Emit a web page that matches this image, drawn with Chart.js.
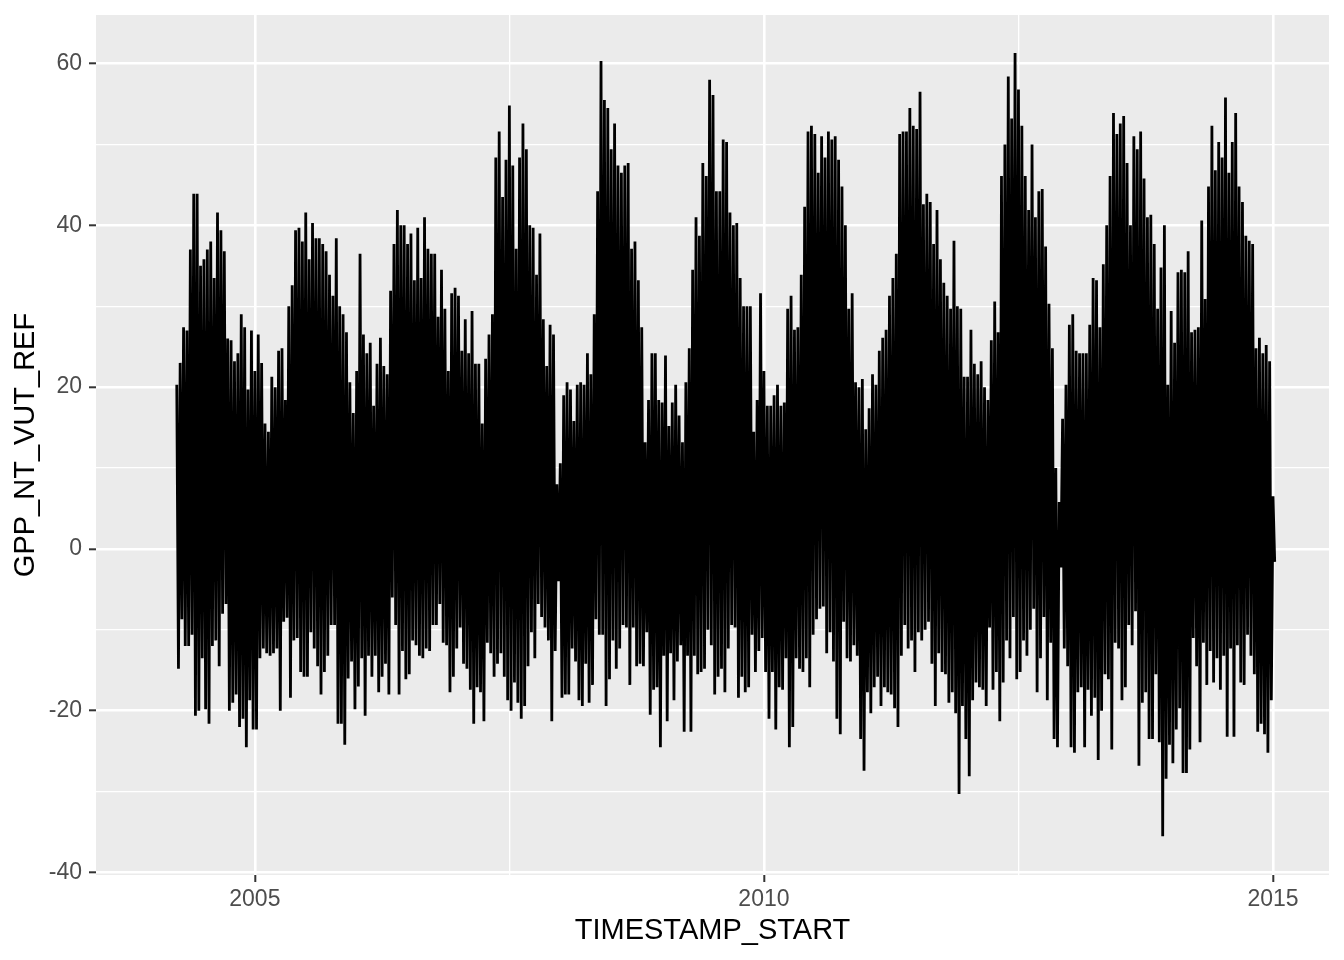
<!DOCTYPE html>
<html>
<head>
<meta charset="utf-8">
<title>GPP_NT_VUT_REF</title>
<script src="https://cdn.jsdelivr.net/npm/chart.js@4.4.1/dist/chart.umd.min.js"></script>
<style>
  html, body { margin: 0; padding: 0; background: #ffffff; }
  #wrap { width: 1344px; height: 960px; position: relative; }
</style>
</head>
<body>
<div id="wrap"><canvas id="chart"></canvas></div>
<script>
// Sampled envelope of the half-hourly series: 30 samples per year,
// each sample gives the highest (hi) and lowest (lo) value seen there.
const samplesPerYear = 30;
const years = [2004, 2005, 2006, 2007, 2008, 2009, 2010, 2011, 2012, 2013, 2014];
const firstSample = [7, 0, 0, 0, 0, 0, 0, 0, 0, 0, 0]; // record starts late March 2004

const hi2004 = [20.3, 23, 27.4, 27, 37, 43.9, 43.9, 35, 35.8, 37, 38, 33.5, 41.6, 39.4, 36.8, 26, 25.8, 23.2, 24.2, 29, 27.4, 19.7, 27];
const lo2004 = [-14.8, -8.7, -12, -12, -10.6, -20.6, -20, -13.5, -19.8, -21.6, -12, -11.3, -14.5, -8, -6.8, -20, -19, -18, -22, -21, -24.5, -18.7, -22.3];

const hi2005 = [22, 26.5, 23, 15.5, 14.5, 21.3, 20, 24.5, 24.8, 18.4, 30, 32.6, 39.4, 39.7, 38, 41.6, 35.8, 40.3, 38.4, 38.4, 37.7, 36.8, 33.9, 31.3, 38.4, 30, 29, 26.8, 20.6, 16.8];
const lo2005 = [-22.3, -13.5, -12.3, -12.9, -13.2, -12.9, -12.3, -20, -9, -8.5, -18.4, -11.3, -11, -15.2, -15.8, -15.8, -10.3, -12.3, -14.5, -18, -15.2, -13.2, -9.4, -9.4, -21.6, -21.6, -24.2, -16, -13.9, -19.8];

const hi2006 = [22, 36.5, 26.5, 24.2, 25.5, 17.7, 22.9, 26.1, 22.6, 21.6, 31.9, 37.7, 41.9, 40, 40, 37.7, 39, 33.2, 39.7, 33.5, 41, 37.1, 36.5, 36.5, 28.7, 34.5, 29.7, 22, 31.6, 32.3];
const lo2006 = [-17, -13.5, -20.6, -13.2, -15.8, -13.2, -17.7, -15.8, -14.2, -18, -6, -9.4, -18, -12.6, -16.1, -15.5, -11.3, -11.9, -13.2, -13.5, -12.3, -12.6, -9.4, -9.4, -6.8, -11.6, -11.9, -17.7, -15.8, -12.3];

const hi2007 = [31.3, 24.5, 28.4, 24.2, 29.4, 22.9, 22.9, 15.5, 23.5, 26.5, 29, 48.4, 51.6, 43.5, 48.1, 54.8, 47.4, 37.1, 48.4, 52.6, 49.4, 40, 39.7, 33.9, 39, 28.4, 22.6, 27.7, 26.5, 8];
const lo2007 = [-9.7, -14.2, -14.8, -17.4, -21.6, -17.1, -17.7, -21.3, -11.6, -12.9, -15.8, -14.2, -12.9, -15.8, -18.7, -20, -16.5, -19, -21, -19.4, -14.5, -10.3, -13.5, -6.8, -8.4, -9.7, -11.3, -21.3, -12.6, -4];

const hi2008 = [10.6, 19, 20.6, 19.7, 15.8, 20.3, 20.6, 20.3, 24.2, 21.6, 29, 44.2, 60.3, 55.5, 54.5, 49.4, 52.6, 47.4, 46.5, 47.4, 47.7, 37.1, 38, 33.2, 27.4, 13.2, 18.4, 24.2, 24.2, 18.4];
const lo2008 = [-18.4, -18, -18, -12.3, -13.9, -18.7, -19.4, -14.2, -19, -16.8, -8.7, -10.6, -10.6, -19.4, -16.1, -11.3, -14.8, -12.3, -9.4, -9.7, -16.8, -9.7, -14.5, -14.2, -14.5, -10.3, -20.5, -17.4, -17.1, -24.5];

const hi2009 = [18.1, 23.9, 15.2, 18.1, 20.3, 16.5, 13.2, 20.6, 24.8, 34.5, 41, 38.7, 47.7, 46.1, 58, 56.1, 44.2, 44.2, 50.6, 50.3, 41.6, 40, 40.3, 33.5, 30, 30, 30, 14.5, 18.4, 31.6];
const lo2009 = [-13.2, -21.3, -12.9, -18.7, -13.9, -11.9, -22.6, -13.2, -22.6, -13.2, -15.5, -15.2, -14.8, -10, -11.9, -18, -15.8, -14.8, -17.7, -12.3, -9.4, -9.7, -18.4, -15.8, -17.7, -17.1, -10.6, -15.2, -12.6, -11];

const hi2010 = [22, 17.7, 17.7, 19, 20.3, 17.7, 18.1, 29.7, 31.3, 27.1, 27.4, 33.9, 42.3, 51.6, 52.3, 51.3, 46.5, 51, 48.4, 51.6, 50.6, 51, 48.1, 44.8, 40, 29.7, 31.6, 20.6, 20, 21];
const lo2010 = [-15.2, -21, -15.2, -22.3, -17.1, -17.4, -13.5, -24.5, -22, -13.5, -14.8, -15.2, -13.5, -17.1, -10.6, -8.7, -7.4, -7.1, -12.9, -10.3, -13.9, -21, -22.9, -9, -13.5, -13.9, -11.9, -13.2, -23.5, -27.4];

const hi2011 = [14.8, 17.4, 21.6, 20.3, 24.5, 26.1, 27.1, 31.3, 33.5, 36.5, 51.3, 51.6, 51.6, 54.5, 52.3, 51.9, 56.5, 42.6, 43.9, 42.9, 37.7, 41.9, 35.8, 32.9, 31.3, 29.7, 38.1, 30, 29.7, 21.3];
const lo2011 = [-17.7, -20.3, -17.1, -15.8, -19.4, -17.1, -17.7, -18, -19.7, -22, -13.2, -9.4, -12.3, -11.3, -15.2, -10.3, -11.3, -10, -9, -14.2, -19.4, -12.9, -15.2, -15.5, -19, -17.7, -20.3, -30.3, -19.4, -23.5];

const hi2012 = [21.3, 27.1, 22.9, 21.6, 23.2, 20, 18.4, 25.8, 30.6, 26.8, 46.1, 50, 58.4, 53.2, 61.3, 56.8, 52.3, 46.1, 41.9, 50, 41, 44.2, 44.5, 37.4, 30.3, 24.8, 10, 5.8, 16.1, 20.3];
const lo2012 = [-28.1, -18.7, -16.5, -17.1, -17.4, -19.4, -9.7, -17.4, -15.2, -21.3, -16.5, -11.3, -13.5, -8.4, -16.1, -15.2, -11.3, -13.2, -10, -7.4, -17.7, -13.5, -8.4, -18.7, -11.6, -23.5, -24.5, -2.3, -12.3, -14.5];

const hi2013 = [27.7, 29, 24.5, 24.2, 24.2, 24.2, 27.7, 33.5, 33.2, 27.4, 35.2, 40, 46.1, 53.9, 51.3, 52.6, 53.5, 47.7, 40, 51, 49.4, 51.6, 45.8, 41, 41.3, 37.7, 29.7, 34.8, 40, 20.3];
const lo2013 = [-24.5, -25.2, -17.7, -17.1, -24.5, -17.4, -20.6, -18.4, -26.1, -20, -15.5, -16.1, -24.8, -11.6, -12.3, -18.7, -17.1, -9.4, -11.9, -7.7, -26.8, -19, -17.7, -23.5, -23.5, -15.5, -23.9, -35.5, -28.4, -24.2];

// last entry is the final record at the very start of 2015
const hi2014 = [29.4, 25.5, 34.2, 34.5, 34.2, 36.8, 26.8, 27.1, 27.4, 40.6, 30.9, 44.8, 52.3, 46.8, 50.3, 48.4, 55.8, 46.5, 50.3, 53.9, 44.8, 42.9, 38.7, 38.1, 37.7, 24.8, 26.1, 24.2, 25.2, 23.2, 6.5];
const lo2014 = [-26.5, -22.3, -19.7, -27.7, -27.7, -24.8, -11, -14.5, -23.9, -11.6, -16.8, -12.6, -16.5, -13.5, -17.4, -13.2, -23.2, -12.3, -23.2, -11.9, -16.5, -16.8, -10.6, -13.2, -15.5, -22.6, -21.6, -22.9, -25.2, -18.7, -1.6];

const hiByYear = [hi2004, hi2005, hi2006, hi2007, hi2008, hi2009, hi2010, hi2011, hi2012, hi2013, hi2014];
const loByYear = [lo2004, lo2005, lo2006, lo2007, lo2008, lo2009, lo2010, lo2011, lo2012, lo2013, lo2014];

// Axis breaks (ggplot style: labelled major + unlabelled minor)
const xMajor = [2005, 2010, 2015];
const xMinor = [2007.5, 2012.5];
const yMajor = [-40, -20, 0, 20, 40, 60];
const yMinor = [-30, -10, 10, 30, 50];

// Build the line: hi then lo for every sample, in time order
const points = [];
years.forEach((yr, i) => {
  const hi = hiByYear[i];
  const lo = loByYear[i];
  for (let k = 0; k < hi.length; k++) {
    const t = yr + (k + firstSample[i]) / samplesPerYear;
    points.push({ x: t, y: hi[k] });
    points.push({ x: t + 0.5 / samplesPerYear, y: lo[k] });
  }
});

const panelBg = {
  id: "panelBg",
  beforeDraw(chart) {
    const { ctx, chartArea: a } = chart;
    ctx.save();
    ctx.fillStyle = "#EBEBEB";
    ctx.fillRect(a.left, a.top, a.right - a.left, a.bottom - a.top);
    ctx.restore();
  }
};

const tickFont = { family: "'Liberation Sans', Arial, sans-serif", size: 23 };
const titleFont = { family: "'Liberation Sans', Arial, sans-serif", size: 29 };

function isMajor(list, v) {
  return list.some(m => Math.abs(m - v) < 1e-6);
}

// drop the extra room Chart.js keeps for half tick labels at the ends
function noEdgePadding(s) {
  s.paddingTop = 0;
  s.paddingBottom = 0;
  s.paddingLeft = 0;
  s.paddingRight = 0;
}

new Chart(document.getElementById("chart"), {
  type: "line",
  data: {
    datasets: [{
      label: "GPP_NT_VUT_REF",
      data: points,
      borderColor: "#000000",
      borderWidth: 2.8,
      borderJoinStyle: "bevel",
      pointRadius: 0,
      tension: 0,
      fill: false
    }]
  },
  options: {
    responsive: true,
    maintainAspectRatio: false,
    animation: false,
    events: [],
    layout: { padding: { top: 15, right: 15, left: 0, bottom: 0 } },
    plugins: {
      legend: { display: false },
      tooltip: { enabled: false }
    },
    scales: {
      x: {
        type: "linear",
        min: 2003.44,
        max: 2015.55,
        afterBuildTicks: s => { s.ticks = xMajor.concat(xMinor).sort((a, b) => a - b).map(v => ({ value: v })); },
        afterFit: s => { s.height = 85; noEdgePadding(s); },
        border: { display: false },
        grid: {
          color: "#FFFFFF",
          lineWidth: c => isMajor(xMajor, c.tick.value) ? 2.6 : 1.3,
          tickColor: c => isMajor(xMajor, c.tick.value) ? "#333333" : "rgba(0,0,0,0)",
          tickLength: 7,
          tickWidth: 2
        },
        ticks: {
          autoSkip: false,
          maxRotation: 0,
          padding: 4,
          color: "#4D4D4D",
          font: tickFont,
          callback: v => isMajor(xMajor, v) ? String(v) : ""
        },
        title: {
          display: true,
          text: "TIMESTAMP_START",
          color: "#000000",
          font: titleFont,
          padding: { top: 0, bottom: 12 }
        }
      },
      y: {
        type: "linear",
        min: -40.3,
        max: 66.0,
        afterBuildTicks: s => { s.ticks = yMajor.concat(yMinor).sort((a, b) => a - b).map(v => ({ value: v })); },
        afterFit: s => { s.width = 96; noEdgePadding(s); },
        border: { display: false },
        grid: {
          color: "#FFFFFF",
          lineWidth: c => isMajor(yMajor, c.tick.value) ? 2.6 : 1.3,
          tickColor: c => isMajor(yMajor, c.tick.value) ? "#333333" : "rgba(0,0,0,0)",
          tickLength: 7,
          tickWidth: 2
        },
        ticks: {
          autoSkip: false,
          padding: 7,
          color: "#4D4D4D",
          font: tickFont,
          callback: v => isMajor(yMajor, v) ? String(v) : ""
        },
        title: {
          display: true,
          text: "GPP_NT_VUT_REF",
          color: "#000000",
          font: titleFont,
          padding: { top: 9, bottom: 0 }
        }
      }
    }
  },
  plugins: [panelBg]
});
</script>
</body>
</html>
